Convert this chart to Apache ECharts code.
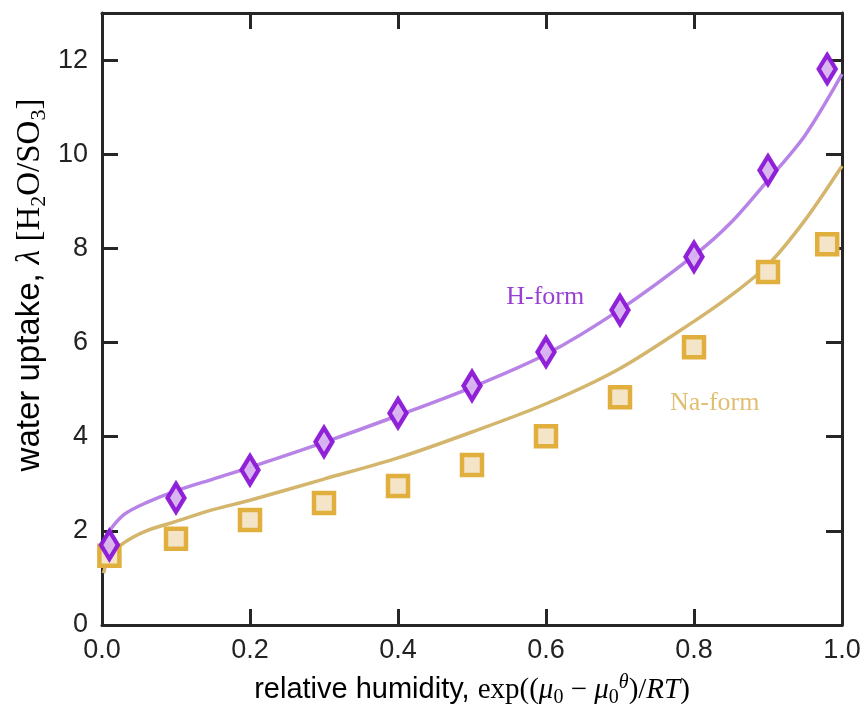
<!DOCTYPE html>
<html>
<head>
<meta charset="utf-8">
<script src="https://cdn.jsdelivr.net/npm/echarts@6/dist/echarts.min.js"></script>
<style>html,body{margin:0;padding:0;background:#fff}#c{width:866px;height:713px}</style>
</head>
<body>
<div id="c"></div>
<script>
// measured points
const xPts = [0.01, 0.1, 0.2, 0.3, 0.4, 0.5, 0.6, 0.7, 0.8, 0.9, 0.98];
const hForm = [1.70, 2.70, 3.29, 3.89, 4.50, 5.08, 5.80, 6.69, 7.82, 9.66, 11.81];
const naForm = [1.47, 1.83, 2.23, 2.59, 2.95, 3.40, 4.01, 4.84, 5.90, 7.50, 8.09];
// model curves
const fitX = [0.002, 0.01, 0.03, 0.06, 0.1, 0.15, 0.2, 0.3, 0.4, 0.5, 0.6, 0.7, 0.8, 0.85, 0.9, 0.95, 1.0];
const hFit = [1.75, 2.0, 2.35, 2.6, 2.85, 3.1, 3.35, 3.88, 4.45, 5.05, 5.75, 6.7, 7.85, 8.55, 9.45, 10.4, 11.7];
const naFit = [1.1, 1.45, 1.75, 2.0, 2.2, 2.45, 2.65, 3.1, 3.55, 4.1, 4.7, 5.45, 6.45, 7.0, 7.65, 8.6, 9.75];
// annotations
const labelNames = ['H-form', 'Na-form'];
const labelX = [0.599, 0.828];
const labelY = [6.97, 4.72];
const xTicks = [0, 0.2, 0.4, 0.6, 0.8, 1.0];
const yTicks = [0, 2, 4, 6, 8, 10, 12];

const purple = '#8b17d6', purpleFill = '#d8b2f0', purpleLine = '#b883e6';
const gold = '#e1af3d', goldFill = '#f4e5c8', goldLine = '#d4b56c';
const axisCol = '#262626';

const chart = echarts.init(document.getElementById('c'), null, {renderer: 'canvas'});
const grid = {left: 102, right: 24, top: 13, bottom: 88};
function axisCommon() {
  return {
    axisLine: {show: true, onZero: false, lineStyle: {color: axisCol, width: 3}},
    axisTick: {show: true, inside: true, length: 16, lineStyle: {color: axisCol, width: 3}},
    splitLine: {show: false},
  };
}
const option = {
  animation: false,
  grid: grid,
  xAxis: [
    Object.assign({type: 'value', min: 0, max: 1, interval: 0.2, position: 'bottom',
      axisLabel: {show: true, margin: 12, fontSize: 27, color: '#222', fontFamily: 'Liberation Sans',
        formatter: v => v.toFixed(1)}}, axisCommon()),
    Object.assign({type: 'value', min: 0, max: 1, interval: 0.2, position: 'top',
      axisLabel: {show: false}}, axisCommon())
  ],
  yAxis: [
    Object.assign({type: 'value', min: 0, max: 13, interval: 2, position: 'left',
      axisLabel: {show: true, margin: 14, fontSize: 27, color: '#222', fontFamily: 'Liberation Sans',
        formatter: v => (yTicks.indexOf(v) >= 0 ? String(v) : '')}}, axisCommon()),
    Object.assign({type: 'value', min: 0, max: 13, interval: 2, position: 'right',
      axisLabel: {show: false}}, axisCommon())
  ],
  series: [
    {type: 'line', name: 'H fit', data: fitX.map((x, i) => [x, hFit[i]]), showSymbol: false,
      smooth: 0.3, lineStyle: {color: purpleLine, width: 3.5}, z: 2},
    {type: 'line', name: 'Na fit', data: fitX.map((x, i) => [x, naFit[i]]), showSymbol: false,
      smooth: 0.3, lineStyle: {color: goldLine, width: 3.5}, z: 2},
    {type: 'scatter', name: 'Na-form', data: xPts.map((x, i) => [x, naForm[i]]), symbol: 'rect',
      symbolSize: 20, itemStyle: {color: goldFill, borderColor: gold, borderWidth: 4.5, opacity: 1}, z: 3},
    {type: 'scatter', name: 'H-form', data: xPts.map((x, i) => [x, hForm[i]]), symbol: 'diamond',
      symbolSize: [17, 28], itemStyle: {color: purpleFill, borderColor: purple, borderWidth: 4.5, borderJoin: 'miter', opacity: 0.95}, z: 4},
    {type: 'scatter', name: 'labels', symbolSize: 0, silent: true,
      data: labelNames.map((n, i) => ({value: [labelX[i], labelY[i]], name: n})),
      label: {show: true, position: 'inside', formatter: p => p.name, fontFamily: 'Liberation Serif', fontSize: 26,
        color: '#7e10cc'}, z: 5}
  ]
};
option.series[4].data[1].label = {color: '#d9ae4e'};
chart.setOption(option);

function richSet(f) {
  const sub = Math.round(f * 0.68);
  return {
    s: {fontFamily: 'Liberation Sans', fontSize: f, color: '#222', lineHeight: Math.round(f * 1.2)},
    r: {fontFamily: 'Liberation Serif', fontSize: f, color: '#222', lineHeight: Math.round(f * 1.2)},
    i: {fontFamily: 'Liberation Serif', fontSize: f, fontStyle: 'italic', color: '#222', lineHeight: Math.round(f * 1.2)},
    sub: {fontFamily: 'Liberation Serif', fontSize: sub, color: '#222', verticalAlign: 'bottom', lineHeight: sub},
    sup: {fontFamily: 'Liberation Serif', fontSize: sub, fontStyle: 'italic', color: '#222', verticalAlign: 'top', lineHeight: Math.round(sub * 0.7)}
  };
}
const cx = grid.left + (866 - grid.left - grid.right) / 2;
chart.setOption({
  graphic: [
    {type: 'text', x: cx, y: 690, style: {
      text: '{s|relative humidity, }{r|exp((}{i|μ}{sub|0}{r| − }{i|μ}{sub|0}{sup|θ}{r|)/}{i|RT}{r|)}',
      rich: richSet(29), align: 'center', verticalAlign: 'middle'}},
    {type: 'text', x: 30, y: 285, rotation: Math.PI / 2, style: {
      text: '{s|water uptake, }{i|λ}{r| [H}{sub|2}{r|O/SO}{sub|3}{r|]}',
      rich: richSet(33), align: 'center', verticalAlign: 'middle'}}
  ]
});
</script>
</body>
</html>
